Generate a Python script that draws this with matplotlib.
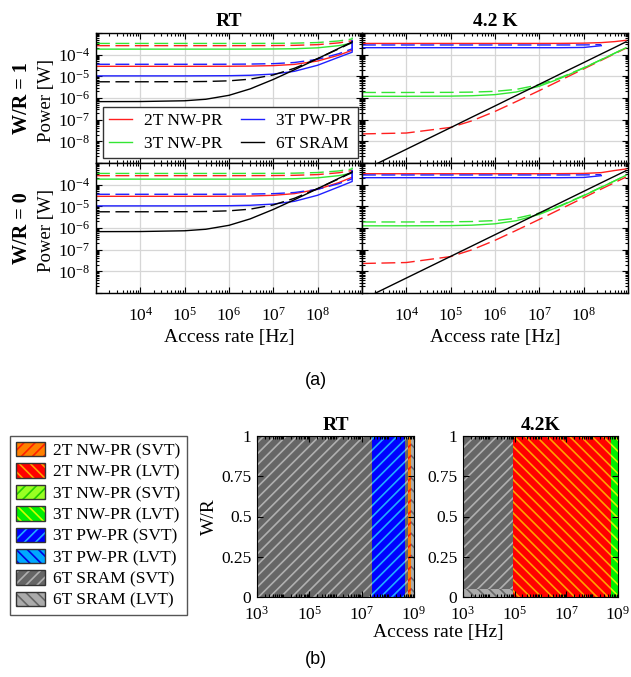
import numpy as np
import matplotlib
matplotlib.use('Agg')
import matplotlib.pyplot as plt
from matplotlib.lines import Line2D
from matplotlib.patches import Patch
from matplotlib.ticker import LogLocator, NullFormatter

plt.rcParams['font.family'] = ['Liberation Serif', 'DejaVu Serif']
plt.rcParams['mathtext.fontset'] = 'custom'
plt.rcParams['mathtext.rm'] = 'Liberation Serif'
plt.rcParams['mathtext.it'] = 'Liberation Serif:italic'
plt.rcParams['mathtext.bf'] = 'Liberation Serif:bold'
plt.rcParams['hatch.linewidth'] = 1.2

# ---------------- (a) power vs access rate ----------------
designs = ['2T NW-PR', '3T NW-PR', '3T PW-PR', '6T SRAM']
design_colors = ['#ff1f1f', '#33e633', '#1f1fff', 'black']

# RT curves end at 6e8; last point repeated for the end jump
freq_rt = [1e3, 1e4, 1e5, 3e5, 1e6, 3e6, 1e7, 3e7, 1e8, 3e8, 6e8, 6e8]
freq_4k = [1e3, 1e4, 1e5, 3e5, 1e6, 3e6, 1e7, 3e7, 1e8, 2.5e8, 5e8, 9e8]

# RT, W/R = 1 (solid = SVT, dashed = LVT)
rt1_2t_svt = [2.9e-5, 2.9e-5, 2.9e-5, 2.91e-5, 2.92e-5, 2.97e-5, 3.12e-5, 3.56e-5, 5.1e-5, 9.5e-5, 1.6e-4, 1.6e-4]
rt1_2t_lvt = [2.6e-4, 2.6e-4, 2.6e-4, 2.6e-4, 2.6e-4, 2.61e-4, 2.63e-4, 2.69e-4, 2.9e-4, 3.5e-4, 4.4e-4, 4.4e-4]
rt1_3tn_svt = [1.8e-4, 1.8e-4, 1.8e-4, 1.8e-4, 1.8e-4, 1.81e-4, 1.83e-4, 1.88e-4, 2.07e-4, 2.61e-4, 3.4e-4, 3.4e-4]
rt1_3tn_lvt = [3.3e-4, 3.3e-4, 3.3e-4, 3.3e-4, 3.3e-4, 3.31e-4, 3.33e-4, 3.4e-4, 3.63e-4, 4.3e-4, 5.3e-4, 6.2e-4]
rt1_3tp_svt = [1.05e-5, 1.05e-5, 1.05e-5, 1.06e-5, 1.07e-5, 1.12e-5, 1.27e-5, 1.71e-5, 3.25e-5, 7.65e-5, 1.3e-4, 4.5e-4]
rt1_3tp_lvt = [3.6e-5, 3.6e-5, 3.6e-5, 3.6e-5, 3.62e-5, 3.68e-5, 3.85e-5, 4.35e-5, 6.1e-5, 1.11e-4, 1.86e-4, 4.5e-4]
rt1_6t_svt = [6.8e-7, 6.87e-7, 7.45e-7, 8.75e-7, 1.33e-6, 2.63e-6, 7.2e-6, 2.02e-5, 6.57e-5, 1.96e-4, 3.9e-4, 3.9e-4]
rt1_6t_lvt = [5.6e-6, 5.61e-6, 5.66e-6, 5.78e-6, 6.2e-6, 7.4e-6, 1.16e-5, 2.36e-5, 6.6e-5, 1.86e-4, 3.66e-4, 3.66e-4]

# RT, W/R = 0
rt0_2t_svt = [2.9e-5, 2.9e-5, 2.9e-5, 2.91e-5, 2.93e-5, 3.0e-5, 3.22e-5, 3.86e-5, 6.1e-5, 1.25e-4, 2.2e-4, 2.2e-4]
rt0_2t_lvt = [2.6e-4, 2.6e-4, 2.6e-4, 2.6e-4, 2.6e-4, 2.61e-4, 2.63e-4, 2.7e-4, 2.92e-4, 3.55e-4, 4.5e-4, 4.5e-4]
rt0_3tn_svt = [1.8e-4, 1.8e-4, 1.8e-4, 1.8e-4, 1.8e-4, 1.81e-4, 1.83e-4, 1.88e-4, 2.07e-4, 2.61e-4, 3.4e-4, 3.4e-4]
rt0_3tn_lvt = [3.3e-4, 3.3e-4, 3.3e-4, 3.3e-4, 3.3e-4, 3.31e-4, 3.33e-4, 3.4e-4, 3.63e-4, 4.3e-4, 5.3e-4, 6.2e-4]
rt0_3tp_svt = [1.05e-5, 1.05e-5, 1.05e-5, 1.06e-5, 1.07e-5, 1.12e-5, 1.27e-5, 1.71e-5, 3.25e-5, 7.9e-5, 1.4e-4, 4.5e-4]
rt0_3tp_lvt = [3.6e-5, 3.6e-5, 3.6e-5, 3.6e-5, 3.62e-5, 3.68e-5, 3.85e-5, 4.35e-5, 6.1e-5, 1.11e-4, 1.86e-4, 4.5e-4]
rt0_6t_svt = [6.8e-7, 6.87e-7, 7.45e-7, 8.75e-7, 1.33e-6, 2.63e-6, 7.2e-6, 2.02e-5, 6.57e-5, 1.96e-4, 3.9e-4, 3.9e-4]
rt0_6t_lvt = [5.6e-6, 5.61e-6, 5.66e-6, 5.78e-6, 6.2e-6, 7.4e-6, 1.16e-5, 2.36e-5, 6.6e-5, 1.86e-4, 3.66e-4, 3.66e-4]

# 4.2 K, W/R = 1
k1_2t_svt = [3.3e-4, 3.3e-4, 3.3e-4, 3.3e-4, 3.3e-4, 3.3e-4, 3.3e-4, 3.32e-4, 3.4e-4, 3.6e-4, 4.0e-4, 4.6e-4]
k1_2t_lvt = [2.2e-8, 2.42e-8, 4.4e-8, 8.8e-8, 2.4e-7, 6.8e-7, 2.2e-6, 6.6e-6, 2.2e-5, 5.5e-5, 1.1e-4, 2.0e-4]
k1_3tn_svt = [1.2e-6, 1.2e-6, 1.22e-6, 1.27e-6, 1.43e-6, 1.89e-6, 3.5e-6, 8.1e-6, 2.42e-5, 5.9e-5, 1.16e-4, 2.08e-4]
k1_3tn_lvt = [1.8e-6, 1.8e-6, 1.82e-6, 1.87e-6, 2.03e-6, 2.49e-6, 4.1e-6, 8.7e-6, 2.48e-5, 5.9e-5, 1.17e-4, 2.1e-4]
k1_3tp_svt = [2.1e-4, 2.1e-4, 2.1e-4, 2.1e-4, 2.1e-4, 2.1e-4, 2.1e-4, 2.1e-4, 2.15e-4, 2.6e-4, np.nan, np.nan]
k1_3tp_lvt = [2.8e-4, 2.8e-4, 2.8e-4, 2.8e-4, 2.8e-4, 2.8e-4, 2.8e-4, 2.8e-4, 2.82e-4, 2.9e-4, np.nan, np.nan]
k1_6t_svt = [4.3e-10, 4.3e-9, 4.3e-8, 1.3e-7, 4.3e-7, 1.3e-6, 4.3e-6, 1.3e-5, 4.3e-5, 1.08e-4, 2.15e-4, 3.9e-4]
k1_6t_lvt = [np.nan] * 12

# 4.2 K, W/R = 0
k0_2t_svt = [3.2e-4, 3.2e-4, 3.2e-4, 3.2e-4, 3.2e-4, 3.2e-4, 3.2e-4, 3.23e-4, 3.3e-4, 3.6e-4, 4.5e-4, 5.3e-4]
k0_2t_lvt = [2.3e-8, 2.55e-8, 4.8e-8, 9.8e-8, 2.7e-7, 7.7e-7, 2.5e-6, 7.5e-6, 2.5e-5, 6.3e-5, 1.25e-4, 2.25e-4]
k0_3tn_svt = [1.26e-6, 1.26e-6, 1.29e-6, 1.35e-6, 1.56e-6, 2.16e-6, 4.26e-6, 1.03e-5, 3.1e-5, 7.6e-5, 1.5e-4, 2.7e-4]
k0_3tn_lvt = [1.9e-6, 1.9e-6, 1.93e-6, 1.99e-6, 2.2e-6, 2.8e-6, 4.9e-6, 1.09e-5, 3.2e-5, 7.7e-5, 1.5e-4, 2.7e-4]
k0_3tp_svt = [2.1e-4, 2.1e-4, 2.1e-4, 2.1e-4, 2.1e-4, 2.1e-4, 2.1e-4, 2.1e-4, 2.15e-4, 2.6e-4, np.nan, np.nan]
k0_3tp_lvt = [2.8e-4, 2.8e-4, 2.8e-4, 2.8e-4, 2.8e-4, 2.8e-4, 2.8e-4, 2.8e-4, 2.82e-4, 2.9e-4, np.nan, np.nan]
k0_6t_svt = [4.9e-10, 4.9e-9, 4.9e-8, 1.47e-7, 4.9e-7, 1.47e-6, 4.9e-6, 1.47e-5, 4.9e-5, 1.23e-4, 2.45e-4, 4.4e-4]
k0_6t_lvt = [np.nan] * 12

xtick_vals = [1e3, 1e4, 1e5, 1e6, 1e7, 1e8, 1e9]
xtick_labels = ['', '$10^{4}$', '$10^{5}$', '$10^{6}$', '$10^{7}$', '$10^{8}$', '']
ytick_vals = [1e-9, 1e-8, 1e-7, 1e-6, 1e-5, 1e-4, 1e-3]
ytick_labels = ['', '$10^{-8}$', '$10^{-7}$', '$10^{-6}$', '$10^{-5}$', '$10^{-4}$', '']

# ---------------- (b) optimal design map ----------------
region_labels = ['2T NW-PR (SVT)', '2T NW-PR (LVT)', '3T NW-PR (SVT)', '3T NW-PR (LVT)',
                 '3T PW-PR (SVT)', '3T PW-PR (LVT)', '6T SRAM (SVT)', '6T SRAM (LVT)']
region_face = ['#ff8000', '#ff0000', '#99ff22', '#00ee00', '#0000ff', '#00a8ff', '#666666', '#ababab']
region_hcolor = ['#ff2000', '#ffa000', '#22cc00', '#ccff00', '#22aaff', '#0000dd', '#b0b0b0', '#666666']
region_hatch = ['///', '\\\\\\', '///', '\\\\\\', '///', '\\\\\\', '///', '\\\\\\']

rt_id = [6, 4, 6, 0, 7]
rt_f0 = [1e3, 2.4e7, 4.5e8, 6.0e8, 7.4e8]
rt_f1 = [2.4e7, 4.5e8, 6.0e8, 7.4e8, 1e9]
rt_w0 = [0, 0, 0, 0, 0]
rt_w1 = [1, 1, 1, 1, 1]

k4_id = [6, 7, 1, 3]
k4_f0 = [1e3, 1e3, 9e4, 5.3e8]
k4_f1 = [9e4, 9e4, 5.3e8, 1e9]
k4_w0 = [0.05, 0, 0, 0]
k4_w1 = [1, 0.05, 1, 1]

map_xticks = [1e3, 1e5, 1e7, 1e9]
map_xlabels = ['$10^{3}$', '$10^{5}$', '$10^{7}$', '$10^{9}$']
map_yticks = [0, 0.25, 0.5, 0.75, 1]
map_ylabels = ['0', '0.25', '0.5', '0.75', '1']

W, H = 631, 677
fig = plt.figure(figsize=(W / 100, H / 100), dpi=100)


def rect(x0, y0, x1, y1):
    return [x0 / W, 1 - y1 / H, (x1 - x0) / W, (y1 - y0) / H]


panel_a = [
    (rect(96, 33, 362, 163), freq_rt,
     [(rt1_2t_svt, rt1_2t_lvt), (rt1_3tn_svt, rt1_3tn_lvt), (rt1_3tp_svt, rt1_3tp_lvt), (rt1_6t_svt, rt1_6t_lvt)],
     True, False, 'RT'),
    (rect(362, 33, 628, 163), freq_4k,
     [(k1_2t_svt, k1_2t_lvt), (k1_3tn_svt, k1_3tn_lvt), (k1_3tp_svt, k1_3tp_lvt), (k1_6t_svt, k1_6t_lvt)],
     False, False, '4.2 K'),
    (rect(96, 163, 362, 293), freq_rt,
     [(rt0_2t_svt, rt0_2t_lvt), (rt0_3tn_svt, rt0_3tn_lvt), (rt0_3tp_svt, rt0_3tp_lvt), (rt0_6t_svt, rt0_6t_lvt)],
     True, True, None),
    (rect(362, 163, 628, 293), freq_4k,
     [(k0_2t_svt, k0_2t_lvt), (k0_3tn_svt, k0_3tn_lvt), (k0_3tp_svt, k0_3tp_lvt), (k0_6t_svt, k0_6t_lvt)],
     False, True, None),
]

axes_a = []
for pos, freq, curves, left, bottom, title in panel_a:
    ax = fig.add_axes(pos)
    axes_a.append(ax)
    for (svt, lvt), col in zip(curves, design_colors):
        ax.plot(freq, lvt, color=col, lw=1.0, ls=(0, (10, 4)))
        ax.plot(freq, svt, color=col, lw=1.0)
    ax.set_xscale('log')
    ax.set_yscale('log')
    ax.set_xlim(1e3, 1e9)
    ax.set_ylim(1e-9, 1e-3)
    ax.set_xticks(xtick_vals)
    ax.set_yticks(ytick_vals)
    ax.set_xticklabels(xtick_labels if bottom else [''] * len(xtick_vals))
    ax.set_yticklabels(ytick_labels if left else [''] * len(ytick_vals))
    ax.xaxis.set_minor_locator(LogLocator(base=10, subs=np.arange(2, 10), numticks=100))
    ax.yaxis.set_minor_locator(LogLocator(base=10, subs=np.arange(2, 10), numticks=100))
    ax.xaxis.set_minor_formatter(NullFormatter())
    ax.yaxis.set_minor_formatter(NullFormatter())
    ax.grid(True, which='major', color='#d6d6d6', lw=0.9)
    ax.set_axisbelow(True)
    ax.tick_params(which='both', direction='in', top=True, right=True, labelsize=12.5, width=0.8)
    ax.tick_params(which='major', length=4, pad=4)
    ax.tick_params(which='minor', length=2.2)
    ax.tick_params(axis='x', pad=10)
    for s in ax.spines.values():
        s.set_linewidth(1.0)
    if title:
        ax.set_title(title, fontsize=14, fontweight='bold', pad=5)
    if bottom:
        ax.set_xlabel('Access rate [Hz]', fontsize=14, labelpad=3)

leg_handles = [Line2D([], [], color=c, lw=1.0) for c in design_colors]
axes_a[0].legend(leg_handles, designs, loc='lower left', bbox_to_anchor=(0.026, 0.038), ncol=2,
                 fontsize=12.5, handlelength=1.3, columnspacing=1.1, labelspacing=0.4,
                 borderpad=0.35, handletextpad=0.7, fancybox=False, edgecolor='#333333',
                 framealpha=1, borderaxespad=0)

fig.text(22 / W, 1 - 98 / H, 'W/R = 1', rotation=90, fontsize=14.5, fontweight='bold', ha='center', va='center')
fig.text(46 / W, 1 - 100 / H, 'Power [W]', rotation=90, fontsize=13.5, ha='center', va='center')
fig.text(22 / W, 1 - 228 / H, 'W/R = 0', rotation=90, fontsize=14.5, fontweight='bold', ha='center', va='center')
fig.text(46 / W, 1 - 230 / H, 'Power [W]', rotation=90, fontsize=13.5, ha='center', va='center')

fig.text(0.5, 1 - 381 / H, '(a)', fontsize=13, family='Liberation Sans', ha='center', va='center')
fig.text(0.5, 1 - 660 / H, '(b)', fontsize=13, family='Liberation Sans', ha='center', va='center')

# ---- panel (b)
panel_b = [
    (rect(257, 436, 414, 597), 'RT', rt_id, rt_f0, rt_f1, rt_w0, rt_w1),
    (rect(463, 436, 618, 597), '4.2K', k4_id, k4_f0, k4_f1, k4_w0, k4_w1),
]
for i, (pos, title, ids, f0, f1, w0, w1) in enumerate(panel_b):
    ax = fig.add_axes(pos)
    for k, a, b, lo, hi in zip(ids, f0, f1, w0, w1):
        ax.bar(a, hi - lo, width=b - a, bottom=lo, align='edge', color=region_face[k],
               edgecolor=region_hcolor[k], hatch=region_hatch[k], linewidth=0)
    ax.set_xscale('log')
    ax.set_xlim(1e3, 1e9)
    ax.set_ylim(0, 1)
    ax.set_xticks(map_xticks)
    ax.set_xticklabels(map_xlabels)
    ax.set_yticks(map_yticks)
    ax.set_yticklabels(map_ylabels)
    ax.xaxis.set_minor_locator(LogLocator(base=10, subs=np.arange(1, 10), numticks=100))
    ax.xaxis.set_minor_formatter(NullFormatter())
    ax.tick_params(which='both', direction='in', top=True, right=True, labelsize=12.5, width=0.8)
    ax.tick_params(which='major', length=4, pad=4)
    ax.tick_params(which='minor', length=2.2)
    ax.tick_params(axis='x', pad=6)
    for s in ax.spines.values():
        s.set_linewidth(0.8)
    ax.set_title(title, fontsize=14, fontweight='bold', pad=4)
    if i == 0:
        ax.set_ylabel('W/R', fontsize=14, labelpad=2)

fig.text(438 / W, 1 - 633 / H, 'Access rate [Hz]', fontsize=14, ha='center', va='center')

map_handles = [(Patch(facecolor=region_face[k], edgecolor=region_hcolor[k], hatch=region_hatch[k], lw=0),
                Patch(facecolor='none', edgecolor='#333333', lw=1.0)) for k in range(len(region_labels))]
fig.legend(map_handles, region_labels, loc='upper left', bbox_to_anchor=(10 / W, 1 - 436 / H),
           fontsize=12.5, handlelength=1.65, handleheight=0.9, labelspacing=0.24, borderpad=0.35,
           handletextpad=0.5, fancybox=False, edgecolor='#555555', framealpha=1, borderaxespad=0)

fig.savefig('out.png', dpi=100)
